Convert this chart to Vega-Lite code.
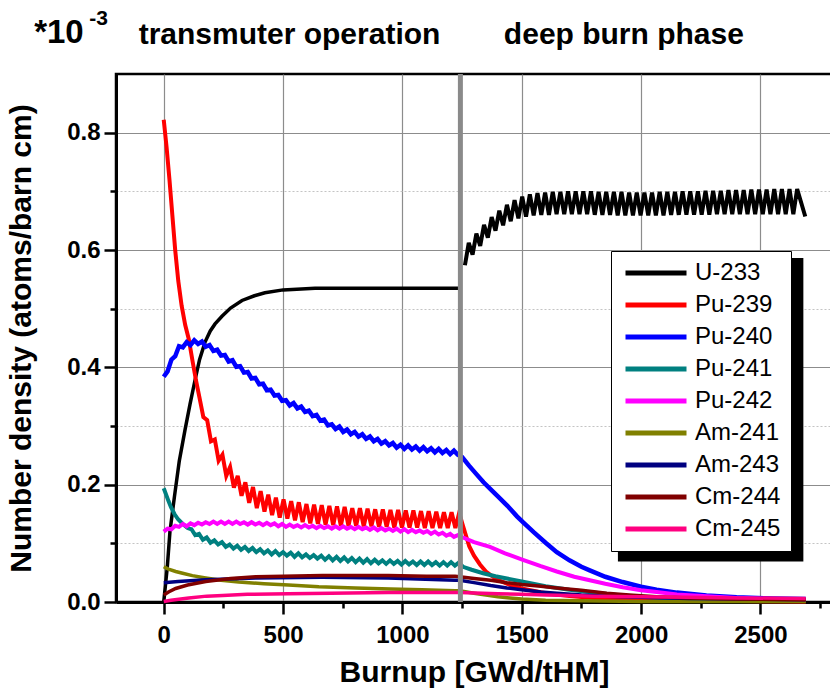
{
  "$schema": "https://vega.github.io/schema/vega-lite/v6.json",
  "width": 716,
  "height": 528,
  "autosize": {"type": "none"},
  "padding": {"left": 116, "top": 74, "right": 0, "bottom": 89},
  "background": "white",
  "config": {
    "font": "Liberation Sans",
    "view": {"stroke": "black", "strokeWidth": 2.5},
    "axis": {
      "labelFont": "Liberation Sans",
      "labelFontWeight": "bold",
      "labelFontSize": 24,
      "labelColor": "black",
      "titleFont": "Liberation Sans",
      "titleFontWeight": "bold",
      "titleFontSize": 30,
      "titleColor": "black",
      "domainColor": "black",
      "domainWidth": 3,
      "tickColor": "black",
      "tickWidth": 2.5,
      "gridWidth": 1.2
    }
  },
  "datasets": {
    "u233a": [
      {"x":0,"y":0},{"x":5,"y":0.02},{"x":15,"y":0.06},{"x":26,"y":0.12},{"x":45,"y":0.18},{"x":65,"y":0.24},
      {"x":89,"y":0.293},{"x":110,"y":0.337},{"x":131,"y":0.378},{"x":150,"y":0.413},{"x":173,"y":0.443},
      {"x":195,"y":0.462},{"x":215,"y":0.474},{"x":244,"y":0.487},{"x":280,"y":0.501},{"x":328,"y":0.514},
      {"x":380,"y":0.522},{"x":424,"y":0.527},{"x":500,"y":0.532},{"x":634,"y":0.535},{"x":800,"y":0.535},
      {"x":1240,"y":0.535}
    ],
    "u233b": [
      {"x":1262,"y":0.574},{"x":1278,"y":0.612},{"x":1294,"y":0.592},{"x":1310,"y":0.628},{"x":1326,"y":0.607},
      {"x":1342,"y":0.643},{"x":1358,"y":0.621},{"x":1374,"y":0.656},{"x":1390,"y":0.633},{"x":1406,"y":0.667},
      {"x":1422,"y":0.642},{"x":1438,"y":0.677},{"x":1454,"y":0.649},{"x":1470,"y":0.685},{"x":1486,"y":0.654},
      {"x":1502,"y":0.691},{"x":1518,"y":0.657},{"x":1534,"y":0.695},{"x":1550,"y":0.659},{"x":1566,"y":0.697},
      {"x":1582,"y":0.66},{"x":1598,"y":0.698},{"x":1614,"y":0.66},{"x":1630,"y":0.699},{"x":1646,"y":0.661},
      {"x":1662,"y":0.699},{"x":1678,"y":0.661},{"x":1694,"y":0.7},{"x":1710,"y":0.661},{"x":1726,"y":0.7},
      {"x":1742,"y":0.661},{"x":1758,"y":0.7},{"x":1774,"y":0.661},{"x":1790,"y":0.7},{"x":1806,"y":0.66},
      {"x":1822,"y":0.699},{"x":1838,"y":0.66},{"x":1854,"y":0.699},{"x":1870,"y":0.66},{"x":1886,"y":0.699},
      {"x":1902,"y":0.659},{"x":1918,"y":0.699},{"x":1934,"y":0.659},{"x":1950,"y":0.698},{"x":1966,"y":0.659},
      {"x":1982,"y":0.698},{"x":1998,"y":0.659},{"x":2014,"y":0.698},{"x":2030,"y":0.659},{"x":2046,"y":0.698},
      {"x":2062,"y":0.659},{"x":2078,"y":0.699},{"x":2094,"y":0.659},{"x":2110,"y":0.699},{"x":2126,"y":0.66},
      {"x":2142,"y":0.699},{"x":2158,"y":0.66},{"x":2174,"y":0.7},{"x":2190,"y":0.66},{"x":2206,"y":0.7},
      {"x":2222,"y":0.66},{"x":2238,"y":0.7},{"x":2254,"y":0.66},{"x":2270,"y":0.701},{"x":2286,"y":0.66},
      {"x":2302,"y":0.701},{"x":2318,"y":0.661},{"x":2334,"y":0.701},{"x":2350,"y":0.661},{"x":2366,"y":0.702},
      {"x":2382,"y":0.661},{"x":2398,"y":0.702},{"x":2414,"y":0.661},{"x":2430,"y":0.702},{"x":2446,"y":0.661},
      {"x":2462,"y":0.703},{"x":2478,"y":0.661},{"x":2494,"y":0.703},{"x":2510,"y":0.661},{"x":2526,"y":0.703},
      {"x":2542,"y":0.661},{"x":2558,"y":0.704},{"x":2574,"y":0.661},{"x":2590,"y":0.704},{"x":2606,"y":0.661},
      {"x":2622,"y":0.704},{"x":2638,"y":0.661},{"x":2654,"y":0.704},{"x":2688,"y":0.657}
    ],
    "pu239": [
      {"x":0,"y":0.822},{"x":12,"y":0.775},{"x":24,"y":0.72},{"x":36,"y":0.66},{"x":48,"y":0.6},{"x":61,"y":0.547},
      {"x":75,"y":0.505},{"x":90,"y":0.472},{"x":105,"y":0.448},{"x":121,"y":0.41},{"x":135,"y":0.378},
      {"x":150,"y":0.348},{"x":166,"y":0.315},{"x":182,"y":0.31},{"x":198,"y":0.274},{"x":214,"y":0.277},
      {"x":230,"y":0.241},{"x":246,"y":0.251},{"x":262,"y":0.215},{"x":278,"y":0.23},{"x":294,"y":0.195},
      {"x":310,"y":0.215},{"x":326,"y":0.181},{"x":342,"y":0.204},{"x":358,"y":0.169},{"x":374,"y":0.196},
      {"x":390,"y":0.16},{"x":406,"y":0.189},{"x":422,"y":0.154},{"x":438,"y":0.183},{"x":454,"y":0.148},
      {"x":470,"y":0.178},{"x":486,"y":0.144},{"x":502,"y":0.175},{"x":518,"y":0.142},{"x":534,"y":0.172},
      {"x":550,"y":0.139},{"x":566,"y":0.17},{"x":582,"y":0.136},{"x":598,"y":0.167},{"x":614,"y":0.134},
      {"x":630,"y":0.166},{"x":646,"y":0.133},{"x":662,"y":0.165},{"x":678,"y":0.132},{"x":694,"y":0.164},
      {"x":710,"y":0.131},{"x":726,"y":0.163},{"x":742,"y":0.13},{"x":758,"y":0.162},{"x":774,"y":0.13},
      {"x":790,"y":0.16},{"x":806,"y":0.13},{"x":822,"y":0.16},{"x":838,"y":0.129},{"x":854,"y":0.159},
      {"x":870,"y":0.129},{"x":886,"y":0.158},{"x":902,"y":0.128},{"x":918,"y":0.158},{"x":934,"y":0.128},
      {"x":950,"y":0.157},{"x":966,"y":0.127},{"x":982,"y":0.157},{"x":998,"y":0.127},{"x":1014,"y":0.156},
      {"x":1030,"y":0.127},{"x":1046,"y":0.156},{"x":1062,"y":0.127},{"x":1078,"y":0.155},{"x":1094,"y":0.126},
      {"x":1110,"y":0.155},{"x":1126,"y":0.126},{"x":1142,"y":0.154},{"x":1158,"y":0.126},{"x":1174,"y":0.153},
      {"x":1190,"y":0.126},{"x":1206,"y":0.153},{"x":1222,"y":0.126},{"x":1238,"y":0.152},
      {"x":1250,"y":0.135},{"x":1265,"y":0.115},{"x":1280,"y":0.095},{"x":1300,"y":0.079},{"x":1325,"y":0.064},
      {"x":1350,"y":0.052},{"x":1380,"y":0.043},{"x":1410,"y":0.036},{"x":1450,"y":0.029},{"x":1500,"y":0.023},
      {"x":1600,"y":0.015},{"x":1700,"y":0.01},{"x":1800,"y":0.007},{"x":2000,"y":0.004},{"x":2300,"y":0.002},
      {"x":2690,"y":0.001}
    ],
    "pu240": [
      {"x":0,"y":0.384},{"x":16,"y":0.393},{"x":32,"y":0.413},{"x":48,"y":0.419},{"x":64,"y":0.436},{"x":80,"y":0.434},
      {"x":96,"y":0.443},{"x":112,"y":0.438},{"x":128,"y":0.446},{"x":144,"y":0.44},{"x":160,"y":0.444},
      {"x":176,"y":0.435},{"x":192,"y":0.438},{"x":208,"y":0.428},{"x":224,"y":0.43},{"x":240,"y":0.42},
      {"x":256,"y":0.421},{"x":272,"y":0.41},{"x":288,"y":0.412},{"x":304,"y":0.401},{"x":320,"y":0.402},
      {"x":336,"y":0.391},{"x":352,"y":0.392},{"x":368,"y":0.381},{"x":384,"y":0.382},{"x":400,"y":0.371},
      {"x":416,"y":0.372},{"x":432,"y":0.361},{"x":448,"y":0.362},{"x":464,"y":0.352},{"x":480,"y":0.353},
      {"x":496,"y":0.343},{"x":512,"y":0.344},{"x":528,"y":0.335},{"x":544,"y":0.339},{"x":560,"y":0.33},
      {"x":576,"y":0.333},{"x":592,"y":0.324},{"x":608,"y":0.326},{"x":624,"y":0.317},{"x":640,"y":0.319},
      {"x":656,"y":0.309},{"x":672,"y":0.311},{"x":688,"y":0.301},{"x":704,"y":0.303},{"x":720,"y":0.295},
      {"x":736,"y":0.299},{"x":752,"y":0.29},{"x":768,"y":0.294},{"x":784,"y":0.286},{"x":800,"y":0.29},
      {"x":816,"y":0.282},{"x":832,"y":0.286},{"x":848,"y":0.278},{"x":864,"y":0.282},{"x":880,"y":0.274},
      {"x":896,"y":0.278},{"x":912,"y":0.27},{"x":928,"y":0.274},{"x":944,"y":0.267},{"x":960,"y":0.271},
      {"x":976,"y":0.263},{"x":992,"y":0.268},{"x":1008,"y":0.261},{"x":1024,"y":0.267},{"x":1040,"y":0.26},
      {"x":1056,"y":0.265},{"x":1072,"y":0.258},{"x":1088,"y":0.264},{"x":1104,"y":0.257},{"x":1120,"y":0.262},
      {"x":1136,"y":0.255},{"x":1152,"y":0.261},{"x":1168,"y":0.254},{"x":1184,"y":0.259},{"x":1200,"y":0.252},
      {"x":1216,"y":0.258},{"x":1232,"y":0.251},
      {"x":1250,"y":0.247},{"x":1280,"y":0.232},{"x":1310,"y":0.218},{"x":1340,"y":0.204},{"x":1370,"y":0.192},
      {"x":1400,"y":0.18},{"x":1440,"y":0.164},{"x":1480,"y":0.146},{"x":1505,"y":0.136},{"x":1550,"y":0.119},
      {"x":1600,"y":0.101},{"x":1647,"y":0.085},{"x":1700,"y":0.071},{"x":1750,"y":0.06},{"x":1785,"y":0.054},
      {"x":1850,"y":0.043},{"x":1923,"y":0.034},{"x":2000,"y":0.026},{"x":2065,"y":0.021},{"x":2150,"y":0.016},
      {"x":2274,"y":0.011},{"x":2400,"y":0.008},{"x":2550,"y":0.006},{"x":2690,"y":0.005}
    ],
    "pu241": [
      {"x":0,"y":0.194},{"x":10,"y":0.183},{"x":20,"y":0.172},{"x":30,"y":0.162},{"x":45,"y":0.15},{"x":60,"y":0.141},
      {"x":80,"y":0.133},{"x":100,"y":0.126},{"x":116,"y":0.124},{"x":132,"y":0.114},{"x":148,"y":0.116},
      {"x":164,"y":0.106},{"x":180,"y":0.11},{"x":196,"y":0.101},{"x":212,"y":0.105},{"x":228,"y":0.098},
      {"x":244,"y":0.102},{"x":260,"y":0.094},{"x":276,"y":0.098},{"x":292,"y":0.091},{"x":308,"y":0.096},
      {"x":324,"y":0.089},{"x":340,"y":0.094},{"x":356,"y":0.087},{"x":372,"y":0.092},{"x":388,"y":0.085},
      {"x":404,"y":0.09},{"x":420,"y":0.083},{"x":436,"y":0.088},{"x":452,"y":0.081},{"x":468,"y":0.087},
      {"x":484,"y":0.08},{"x":500,"y":0.085},{"x":516,"y":0.079},{"x":532,"y":0.084},{"x":548,"y":0.077},
      {"x":564,"y":0.083},{"x":580,"y":0.076},{"x":596,"y":0.081},{"x":612,"y":0.075},{"x":628,"y":0.08},
      {"x":644,"y":0.074},{"x":660,"y":0.079},{"x":676,"y":0.072},{"x":692,"y":0.078},{"x":708,"y":0.071},
      {"x":724,"y":0.077},{"x":740,"y":0.07},{"x":756,"y":0.076},{"x":772,"y":0.069},{"x":788,"y":0.075},
      {"x":804,"y":0.068},{"x":820,"y":0.074},{"x":836,"y":0.067},{"x":852,"y":0.073},{"x":868,"y":0.066},
      {"x":884,"y":0.072},{"x":900,"y":0.066},{"x":916,"y":0.071},{"x":932,"y":0.065},{"x":948,"y":0.071},
      {"x":964,"y":0.065},{"x":980,"y":0.07},{"x":996,"y":0.064},{"x":1012,"y":0.07},{"x":1028,"y":0.064},
      {"x":1044,"y":0.069},{"x":1060,"y":0.063},{"x":1076,"y":0.069},{"x":1092,"y":0.063},{"x":1108,"y":0.069},
      {"x":1124,"y":0.063},{"x":1140,"y":0.068},{"x":1156,"y":0.062},{"x":1172,"y":0.068},{"x":1188,"y":0.062},
      {"x":1204,"y":0.068},{"x":1220,"y":0.062},{"x":1236,"y":0.067},
      {"x":1254,"y":0.06},{"x":1290,"y":0.055},{"x":1338,"y":0.049},{"x":1390,"y":0.044},{"x":1438,"y":0.04},
      {"x":1500,"y":0.035},{"x":1600,"y":0.027},{"x":1700,"y":0.021},{"x":1800,"y":0.016},{"x":1900,"y":0.012},
      {"x":2000,"y":0.009},{"x":2150,"y":0.006},{"x":2300,"y":0.004},{"x":2500,"y":0.003},{"x":2690,"y":0.002}
    ],
    "pu242": [
      {"x":0,"y":0.12},{"x":16,"y":0.125},{"x":32,"y":0.124},{"x":48,"y":0.13},{"x":64,"y":0.128},{"x":80,"y":0.133},
      {"x":96,"y":0.129},{"x":112,"y":0.134},{"x":128,"y":0.131},{"x":144,"y":0.135},{"x":160,"y":0.132},
      {"x":176,"y":0.136},{"x":192,"y":0.133},{"x":208,"y":0.137},{"x":224,"y":0.133},{"x":240,"y":0.137},
      {"x":256,"y":0.133},{"x":272,"y":0.137},{"x":288,"y":0.133},{"x":304,"y":0.137},{"x":320,"y":0.133},
      {"x":336,"y":0.136},{"x":352,"y":0.132},{"x":368,"y":0.136},{"x":384,"y":0.132},{"x":400,"y":0.135},
      {"x":416,"y":0.131},{"x":432,"y":0.135},{"x":448,"y":0.131},{"x":464,"y":0.134},{"x":480,"y":0.129},
      {"x":496,"y":0.133},{"x":512,"y":0.128},{"x":528,"y":0.132},{"x":544,"y":0.128},{"x":560,"y":0.131},
      {"x":576,"y":0.127},{"x":592,"y":0.131},{"x":608,"y":0.127},{"x":624,"y":0.13},{"x":640,"y":0.126},
      {"x":656,"y":0.13},{"x":672,"y":0.126},{"x":688,"y":0.129},{"x":704,"y":0.125},{"x":720,"y":0.129},
      {"x":736,"y":0.125},{"x":752,"y":0.129},{"x":768,"y":0.125},{"x":784,"y":0.128},{"x":800,"y":0.124},
      {"x":816,"y":0.128},{"x":832,"y":0.124},{"x":848,"y":0.127},{"x":864,"y":0.123},{"x":880,"y":0.127},
      {"x":896,"y":0.122},{"x":912,"y":0.126},{"x":928,"y":0.122},{"x":944,"y":0.125},{"x":960,"y":0.121},
      {"x":976,"y":0.125},{"x":992,"y":0.12},{"x":1008,"y":0.124},{"x":1024,"y":0.119},{"x":1040,"y":0.123},
      {"x":1056,"y":0.119},{"x":1072,"y":0.122},{"x":1088,"y":0.118},{"x":1104,"y":0.121},{"x":1120,"y":0.116},
      {"x":1136,"y":0.12},{"x":1152,"y":0.115},{"x":1168,"y":0.118},{"x":1184,"y":0.113},{"x":1200,"y":0.116},
      {"x":1216,"y":0.111},{"x":1232,"y":0.114},
      {"x":1254,"y":0.11},{"x":1300,"y":0.102},{"x":1367,"y":0.094},{"x":1430,"y":0.083},{"x":1505,"y":0.072},
      {"x":1580,"y":0.061},{"x":1647,"y":0.052},{"x":1720,"y":0.043},{"x":1785,"y":0.037},{"x":1850,"y":0.031},
      {"x":1923,"y":0.025},{"x":2000,"y":0.02},{"x":2065,"y":0.017},{"x":2150,"y":0.013},{"x":2274,"y":0.01},
      {"x":2400,"y":0.007},{"x":2550,"y":0.005},{"x":2690,"y":0.004}
    ],
    "am241": [
      {"x":0,"y":0.06},{"x":20,"y":0.056},{"x":50,"y":0.052},{"x":79,"y":0.049},{"x":120,"y":0.045},{"x":176,"y":0.041},
      {"x":240,"y":0.037},{"x":314,"y":0.034},{"x":420,"y":0.031},{"x":523,"y":0.029},{"x":650,"y":0.026},
      {"x":803,"y":0.024},{"x":950,"y":0.022},{"x":1082,"y":0.021},{"x":1221,"y":0.019},{"x":1240,"y":0.019},
      {"x":1270,"y":0.017},{"x":1300,"y":0.015},{"x":1350,"y":0.012},{"x":1400,"y":0.009},{"x":1450,"y":0.007},
      {"x":1500,"y":0.005},{"x":1600,"y":0.003},{"x":1750,"y":0.002},{"x":2000,"y":0.001},{"x":2690,"y":0.001}
    ],
    "am243": [
      {"x":0,"y":0.033},{"x":60,"y":0.035},{"x":176,"y":0.038},{"x":385,"y":0.041},{"x":665,"y":0.042},
      {"x":941,"y":0.041},{"x":1221,"y":0.037},{"x":1240,"y":0.037},{"x":1300,"y":0.033},{"x":1370,"y":0.028},
      {"x":1438,"y":0.024},{"x":1500,"y":0.021},{"x":1580,"y":0.017},{"x":1647,"y":0.015},{"x":1750,"y":0.012},
      {"x":1850,"y":0.01},{"x":2000,"y":0.008},{"x":2200,"y":0.006},{"x":2450,"y":0.005},{"x":2690,"y":0.004}
    ],
    "cm244": [
      {"x":0,"y":0.012},{"x":20,"y":0.017},{"x":50,"y":0.023},{"x":100,"y":0.029},{"x":176,"y":0.035},
      {"x":280,"y":0.04},{"x":385,"y":0.043},{"x":500,"y":0.044},{"x":665,"y":0.045},{"x":800,"y":0.045},
      {"x":941,"y":0.045},{"x":1100,"y":0.044},{"x":1221,"y":0.044},{"x":1240,"y":0.043},{"x":1300,"y":0.04},
      {"x":1370,"y":0.037},{"x":1438,"y":0.033},{"x":1500,"y":0.03},{"x":1580,"y":0.027},{"x":1647,"y":0.024},
      {"x":1750,"y":0.02},{"x":1856,"y":0.015},{"x":1950,"y":0.012},{"x":2065,"y":0.009},{"x":2200,"y":0.007},
      {"x":2400,"y":0.005},{"x":2690,"y":0.004}
    ],
    "cm245": [
      {"x":0,"y":0.001},{"x":30,"y":0.003},{"x":105,"y":0.007},{"x":180,"y":0.01},{"x":247,"y":0.011},
      {"x":350,"y":0.013},{"x":523,"y":0.014},{"x":700,"y":0.015},{"x":941,"y":0.016},{"x":1221,"y":0.016},
      {"x":1240,"y":0.016},{"x":1400,"y":0.014},{"x":1500,"y":0.013},{"x":1600,"y":0.012},{"x":1700,"y":0.011},
      {"x":1800,"y":0.01},{"x":2000,"y":0.009},{"x":2200,"y":0.008},{"x":2400,"y":0.007},{"x":2690,"y":0.006}
    ]
  },
  "layer": [
    {
      "data": {"values": [{}]},
      "mark": {"type": "rect", "color": "black"},
      "encoding": {
        "x": {"datum": 1903, "type": "quantitative"},
        "x2": {"datum": 2680},
        "y": {"datum": 0.069, "type": "quantitative"},
        "y2": {"datum": 0.5863}
      }
    },
    {
      "data": {"name": "u233a"},
      "mark": {"type": "line", "strokeWidth": 3.5},
      "encoding": {
        "x": {
          "field": "x", "type": "quantitative",
          "scale": {"domain": [-200, 2800], "nice": false},
          "axis": {
            "title": "Burnup [GWd/tHM]",
            "values": [0, 250, 500, 750, 1000, 1250, 1500, 1750, 2000, 2250, 2500, 2750],
            "format": "d",
            "labelExpr": "datum.value % 500 === 0 ? datum.label : ''",
            "grid": true,
            "gridColor": "#8c8c8c",
            "gridOpacity": {"condition": {"test": "datum.value % 500 === 0", "value": 1}, "value": 0},
            "tickSize": {"condition": {"test": "datum.value % 500 === 0", "value": 12}, "value": 6},
            "labelPadding": 9,
            "titlePadding": 10
          }
        },
        "y": {
          "field": "y", "type": "quantitative",
          "scale": {"domain": [0, 0.9], "nice": false},
          "axis": {
            "title": "Number density (atoms/barn cm)",
            "values": [0, 0.1, 0.2, 0.3, 0.4, 0.5, 0.6, 0.7, 0.8],
            "labelExpr": "round(datum.value * 10) % 2 === 0 ? format(datum.value, '.1f') : ''",
            "grid": true,
            "gridColor": {"condition": {"test": "round(datum.value * 10) % 2 === 0", "value": "#8c8c8c"}, "value": "#c4c4c4"},
            "gridDash": {"condition": {"test": "round(datum.value * 10) % 2 === 0", "value": []}, "value": [2, 2]},
            "tickSize": {"condition": {"test": "round(datum.value * 10) % 2 === 0", "value": 12}, "value": 6},
            "labelPadding": 4,
            "titlePadding": 30
          }
        },
        "color": {
          "datum": "U-233", "type": "nominal",
          "scale": {
            "domain": ["U-233", "Pu-239", "Pu-240", "Pu-241", "Pu-242", "Am-241", "Am-243", "Cm-244", "Cm-245"],
            "range": ["#000000", "#ff0000", "#0000ff", "#008080", "#ff00ff", "#808000", "#000080", "#800000", "#ff0080"]
          },
          "legend": {
            "orient": "none",
            "legendX": 495,
            "legendY": 177,
            "title": null,
            "symbolType": "stroke",
            "symbolStrokeWidth": 5,
            "symbolSize": 3721,
            "clipHeight": 24,
            "labelFont": "Liberation Sans",
            "labelFontSize": 24,
            "labelColor": "black",
            "labelOffset": 6,
            "symbolOffset": 2,
            "strokeColor": "black",
            "fillColor": "white",
            "padding": 10,
            "rowPadding": 8
          }
        }
      }
    },
    {"data": {"name": "u233b"}, "mark": {"type": "line", "strokeWidth": 4},
     "encoding": {"x": {"field": "x", "type": "quantitative"}, "y": {"field": "y", "type": "quantitative"}, "color": {"datum": "U-233", "type": "nominal"}}},
    {"data": {"name": "pu239"}, "mark": {"type": "line", "strokeWidth": 4},
     "encoding": {"x": {"field": "x", "type": "quantitative"}, "y": {"field": "y", "type": "quantitative"}, "color": {"datum": "Pu-239", "type": "nominal"}}},
    {"data": {"name": "pu240"}, "mark": {"type": "line", "strokeWidth": 4.5},
     "encoding": {"x": {"field": "x", "type": "quantitative"}, "y": {"field": "y", "type": "quantitative"}, "color": {"datum": "Pu-240", "type": "nominal"}}},
    {"data": {"name": "pu241"}, "mark": {"type": "line", "strokeWidth": 4},
     "encoding": {"x": {"field": "x", "type": "quantitative"}, "y": {"field": "y", "type": "quantitative"}, "color": {"datum": "Pu-241", "type": "nominal"}}},
    {"data": {"name": "pu242"}, "mark": {"type": "line", "strokeWidth": 4},
     "encoding": {"x": {"field": "x", "type": "quantitative"}, "y": {"field": "y", "type": "quantitative"}, "color": {"datum": "Pu-242", "type": "nominal"}}},
    {"data": {"name": "am241"}, "mark": {"type": "line", "strokeWidth": 3.5},
     "encoding": {"x": {"field": "x", "type": "quantitative"}, "y": {"field": "y", "type": "quantitative"}, "color": {"datum": "Am-241", "type": "nominal"}}},
    {"data": {"name": "am243"}, "mark": {"type": "line", "strokeWidth": 3.5},
     "encoding": {"x": {"field": "x", "type": "quantitative"}, "y": {"field": "y", "type": "quantitative"}, "color": {"datum": "Am-243", "type": "nominal"}}},
    {"data": {"name": "cm244"}, "mark": {"type": "line", "strokeWidth": 3.5},
     "encoding": {"x": {"field": "x", "type": "quantitative"}, "y": {"field": "y", "type": "quantitative"}, "color": {"datum": "Cm-244", "type": "nominal"}}},
    {"data": {"name": "cm245"}, "mark": {"type": "line", "strokeWidth": 3.5},
     "encoding": {"x": {"field": "x", "type": "quantitative"}, "y": {"field": "y", "type": "quantitative"}, "color": {"datum": "Cm-245", "type": "nominal"}}},
    {
      "data": {"values": [{}]},
      "mark": {"type": "rule", "color": "#8a8a8a", "strokeWidth": 5},
      "encoding": {"x": {"datum": 1243, "type": "quantitative"}}
    },
    {
      "data": {"values": [{}]},
      "mark": {"type": "text", "text": "*10", "font": "Liberation Sans", "fontSize": 33, "fontWeight": "bold", "color": "black", "align": "left", "baseline": "alphabetic"},
      "encoding": {"x": {"datum": -543, "type": "quantitative"}, "y": {"datum": 0.953, "type": "quantitative"}}
    },
    {
      "data": {"values": [{}]},
      "mark": {"type": "text", "text": "-3", "font": "Liberation Sans", "fontSize": 21, "fontWeight": "bold", "color": "black", "align": "left", "baseline": "alphabetic"},
      "encoding": {"x": {"datum": -312, "type": "quantitative"}, "y": {"datum": 0.983, "type": "quantitative"}}
    },
    {
      "data": {"values": [{}]},
      "mark": {"type": "text", "text": "transmuter operation", "font": "Liberation Sans", "fontSize": 30, "fontWeight": "bold", "color": "black", "align": "center", "baseline": "alphabetic"},
      "encoding": {"x": {"datum": 527, "type": "quantitative"}, "y": {"datum": 0.951, "type": "quantitative"}}
    },
    {
      "data": {"values": [{}]},
      "mark": {"type": "text", "text": "deep burn phase", "font": "Liberation Sans", "fontSize": 30, "fontWeight": "bold", "color": "black", "align": "center", "baseline": "alphabetic"},
      "encoding": {"x": {"datum": 1928, "type": "quantitative"}, "y": {"datum": 0.951, "type": "quantitative"}}
    }
  ]
}
